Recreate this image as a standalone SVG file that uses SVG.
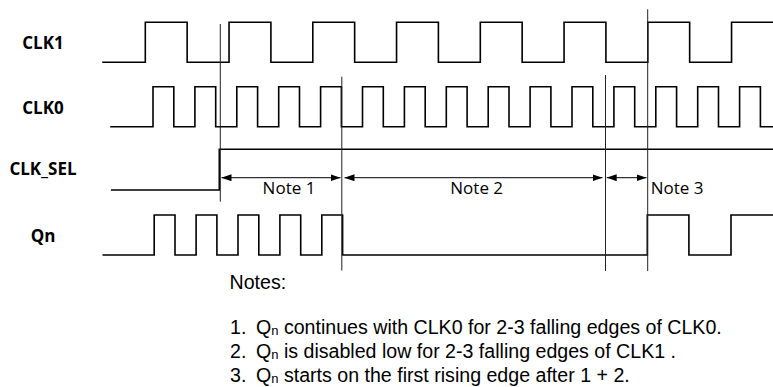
<svg xmlns="http://www.w3.org/2000/svg" width="773" height="387" viewBox="0 0 773 387">
<style>
.w{fill:none;stroke:#000;stroke-width:1.6;stroke-linejoin:miter;stroke-linecap:square}
.v{stroke:#222;stroke-width:1;fill:none}
.a{stroke:#000;stroke-width:1;fill:none;marker-start:url(#ah);marker-end:url(#ah)}
.lbl{font-family:"Open Sans","Liberation Sans",sans-serif;font-weight:bold;font-size:17px;text-anchor:middle;fill:#000}
.nl{font-family:"Open Sans","Liberation Sans",sans-serif;font-size:17px;fill:#000}
.nt{font-family:"Liberation Sans",Arial,sans-serif;font-size:19.6px;fill:#000}
.sub{font-size:13px}
</style>
<defs>
<marker id="ah" viewBox="0 0 10 7" refX="10" refY="3.5" markerWidth="10" markerHeight="7" markerUnits="userSpaceOnUse" orient="auto-start-reverse">
<path d="M0,0 L10,3.5 L0,7 Z" fill="#000"/>
</marker>
</defs>
<rect width="773" height="387" fill="#fff"/>

<g id="clk1">
<text class="lbl" x="43" y="49">CLK1</text>
<path class="w" d="M103,62.3 H145.3 V22.3 H187.15 V62.3 H229.05 V22.3 H270.9 V62.3 H312.8 V22.3 H354.65 V62.3 H396.55 V22.3 H438.4 V62.3 H480.3 V22.3 H522.15 V62.3 H564.05 V22.3 H605.9 V62.3 H647.8 V22.3 H689.65 V62.3 H731.55 V22.3 H773"/>
</g>

<g id="clk0">
<text class="lbl" x="43" y="114">CLK0</text>
<path class="w" d="M111,126.7 H153 V86.7 H173.8 V126.7 H194.9 V86.7 H215.7 V126.7 H236.8 V86.7 H257.6 V126.7 H278.7 V86.7 H299.5 V126.7 H320.6 V86.7 H341.4 V126.7 H362.5 V86.7 H383.3 V126.7 H404.4 V86.7 H425.2 V126.7 H446.3 V86.7 H467.1 V126.7 H488.2 V86.7 H509 V126.7 H530.1 V86.7 H550.9 V126.7 H572 V86.7 H592.8 V126.7 H613.9 V86.7 H634.7 V126.7 H655.8 V86.7 H676.6 V126.7 H697.7 V86.7 H718.5 V126.7 H739.6 V86.7 H760.4 V126.7 H773"/>
</g>

<g id="clk_sel">
<text class="lbl" x="43" y="175">CLK_SEL</text>
<path class="w" d="M111.7,190 H219.3 V149.3 H773"/>
</g>

<g id="qn">
<text class="lbl" x="43" y="241.6">Qn</text>
<path class="w" d="M103.3,255 H154.2 V215 H175 V255 H196.1 V215 H216.9 V255 H238 V215 H258.8 V255 H279.9 V215 H300.7 V255 H321.8 V215 H342.6 V255 H647.3 V215 H688.9 V255 H731 V215 H773"/>
</g>

<g id="connectors">
<line class="v" x1="220.3" y1="24" x2="220.3" y2="201.7"/>
<line class="v" x1="341.8" y1="76.7" x2="341.8" y2="270.5"/>
<line class="v" x1="605.5" y1="75" x2="605.5" y2="271"/>
<line class="v" x1="647.7" y1="9.3" x2="647.7" y2="271"/>
<line class="a" x1="221.5" y1="177.7" x2="340.5" y2="177.7"/>
<line class="a" x1="344.5" y1="177.7" x2="602.5" y2="177.7"/>
<line class="a" x1="606.7" y1="177.7" x2="646.5" y2="177.7"/>
</g>

<g id="note-labels">
<text class="nl" x="289" y="194" text-anchor="middle">Note 1</text>
<text class="nl" x="476.7" y="194" text-anchor="middle">Note 2</text>
<text class="nl" x="650.7" y="194">Note 3</text>
</g>

<g id="notes">
<text class="nt" x="229.5" y="289">Notes:</text>
<text class="nt" y="334"><tspan x="230">1.</tspan><tspan x="256">Q</tspan><tspan class="sub" dy="1">n</tspan><tspan dy="-1"> continues with CLK0 for 2-3 falling edges of CLK0.</tspan></text>
<text class="nt" y="358"><tspan x="230">2.</tspan><tspan x="256">Q</tspan><tspan class="sub" dy="1">n</tspan><tspan dy="-1"> is disabled low for 2-3 falling edges of CLK1 .</tspan></text>
<text class="nt" y="382"><tspan x="230">3.</tspan><tspan x="256">Q</tspan><tspan class="sub" dy="1">n</tspan><tspan dy="-1"> starts on the first rising edge after 1 + 2.</tspan></text>
</g>
</svg>
